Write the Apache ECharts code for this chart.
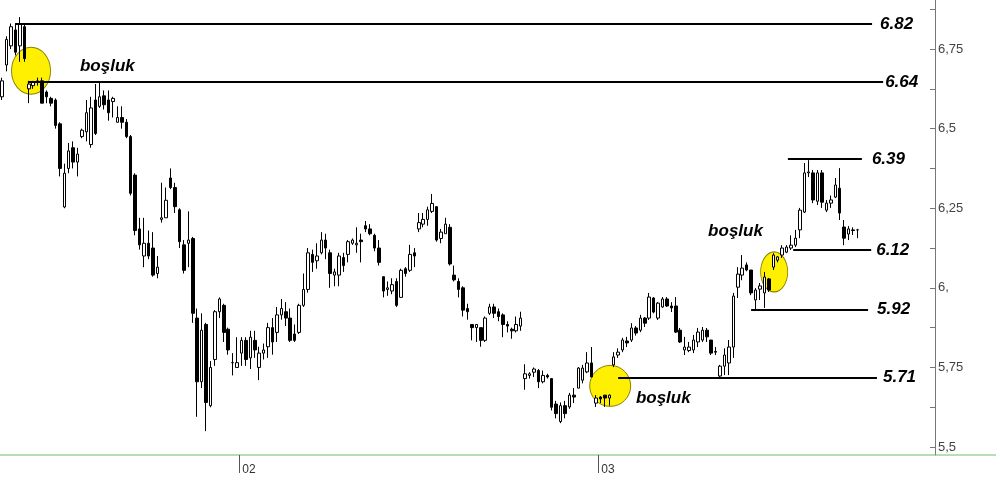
<!DOCTYPE html>
<html>
<head>
<meta charset="utf-8">
<script src="https://cdn.jsdelivr.net/npm/echarts@6/dist/echarts.min.js"></script>
<style>
html,body{margin:0;padding:0;background:#ffffff;}
#chart{width:1000px;height:489px;}
</style>
</head>
<body>
<div id="chart"></div>
<script>
// ---- data ----
const opens = [
6.60,6.70,6.76,6.81,6.76,6.82,6.625,6.635,6.645,6.65,
6.615,6.595,6.59,6.515,6.254,6.375,6.44,6.395,6.475,6.49,
6.45,6.59,6.57,6.603,6.59,6.585,6.52,6.535,6.52,6.475,
6.354,6.185,6.10,6.14,6.125,6.045,6.215,6.22,6.345,6.315,
6.245,6.135,6.14,6.155,5.905,5.705,5.885,5.63,5.775,5.925,
5.945,5.87,5.765,5.75,5.795,5.835,5.78,5.835,5.75,5.795,
5.815,5.875,5.86,5.915,5.925,5.905,5.855,5.86,5.945,5.995,
6.105,6.085,6.11,6.15,6.11,6.04,6.04,6.095,6.105,6.14,
6.135,6.15,6.195,6.185,6.165,6.125,6.035,5.995,5.99,6.02,
5.97,6.06,6.055,6.11,6.185,6.20,6.215,6.24,6.255,6.155,
6.17,6.19,6.04,6.02,6.0,5.935,5.885,5.875,5.875,5.835,
5.92,5.94,5.925,5.915,5.885,5.87,5.865,5.88,5.715,5.725,
5.735,5.74,5.705,5.725,5.715,5.635,5.58,5.63,5.626,5.663,
5.685,5.71,5.736,5.764,5.638,5.657,5.663,5.654,5.758,5.789,
5.805,5.833,5.836,5.874,5.867,5.905,5.905,5.968,5.905,5.94,
5.965,5.943,5.943,5.867,5.805,5.803,5.805,5.83,5.836,5.867,
5.836,5.80,5.723,5.754,5.764,5.814,6.002,6.04,6.072,6.056,
5.962,5.996,5.984,6.028,6.065,6.087,6.103,6.112,6.125,6.134,
6.182,6.238,6.361,6.361,6.272,6.361,6.244,6.266,6.285,6.313,
6.191,6.169,6.182,6.182
];
const closes = [
6.65,6.78,6.82,6.74,6.83,6.72,6.64,6.645,6.65,6.58,
6.60,6.58,6.51,6.375,6.36,6.43,6.395,6.42,6.495,6.55,
6.565,6.485,6.60,6.575,6.55,6.595,6.535,6.52,6.475,6.297,
6.18,6.135,6.14,6.10,6.04,6.065,6.22,6.275,6.315,6.255,
6.145,6.055,6.15,5.92,5.705,5.867,5.64,5.75,5.925,5.965,
5.86,5.805,5.765,5.765,5.835,5.775,5.845,5.805,5.795,5.805,
5.875,5.83,5.915,5.935,5.905,5.835,5.835,5.945,5.995,6.11,
6.08,6.10,6.15,6.125,6.045,6.05,6.10,6.07,6.145,6.15,
6.14,6.145,6.185,6.17,6.125,6.08,5.99,6.0,6.01,5.945,
6.055,6.045,6.105,6.10,6.205,6.215,6.245,6.265,6.15,6.175,
6.20,6.075,6.025,5.995,5.93,5.925,5.875,5.885,5.835,5.905,
5.94,5.92,5.91,5.885,5.88,5.865,5.885,5.905,5.73,5.73,
5.745,5.705,5.725,5.72,5.625,5.605,5.63,5.605,5.663,5.657,
5.748,5.748,5.764,5.72,5.654,5.651,5.654,5.663,5.783,5.798,
5.836,5.827,5.874,5.858,5.905,5.889,5.971,5.924,5.952,5.965,
5.943,5.937,5.861,5.83,5.814,5.814,5.836,5.861,5.867,5.846,
5.795,5.798,5.754,5.789,5.814,5.974,6.043,6.062,6.056,5.984,
5.993,6.006,6.034,5.993,6.103,6.097,6.125,6.128,6.134,6.156,
6.244,6.361,6.364,6.276,6.361,6.269,6.266,6.276,6.323,6.235,
6.156,6.185,6.18,6.182
];
const lows = [
6.59,6.68,6.75,6.73,6.71,6.71,6.58,6.625,6.635,6.58,
6.58,6.57,6.50,6.35,6.25,6.36,6.375,6.35,6.47,6.46,
6.44,6.48,6.565,6.56,6.525,6.535,6.52,6.50,6.47,6.29,
6.165,6.12,6.065,6.09,6.035,6.03,6.205,6.22,6.31,6.235,
6.125,6.045,6.065,5.89,5.595,5.685,5.55,5.625,5.755,5.905,
5.83,5.79,5.725,5.75,5.755,5.755,5.745,5.78,5.71,5.775,
5.78,5.79,5.83,5.90,5.88,5.83,5.83,5.855,5.94,5.985,
6.05,6.06,6.105,6.09,6.00,6.005,6.005,6.05,6.08,6.135,
6.11,6.08,6.175,6.165,6.115,6.07,5.97,5.975,5.98,5.94,
5.97,6.035,6.05,6.065,6.175,6.19,6.195,6.235,6.145,6.14,
6.17,6.07,6.02,5.97,5.91,5.90,5.835,5.83,5.815,5.83,
5.915,5.905,5.895,5.845,5.86,5.84,5.86,5.865,5.68,5.715,
5.72,5.685,5.70,5.715,5.615,5.59,5.575,5.59,5.62,5.638,
5.685,5.70,5.732,5.72,5.626,5.638,5.626,5.63,5.751,5.78,
5.798,5.814,5.83,5.85,5.861,5.877,5.899,5.92,5.899,5.937,
5.94,5.924,5.858,5.827,5.789,5.798,5.795,5.814,5.83,5.83,
5.789,5.789,5.72,5.726,5.726,5.78,5.968,6.024,6.052,5.977,
5.93,5.962,5.937,5.987,6.056,6.08,6.094,6.109,6.119,6.128,
6.156,6.235,6.348,6.266,6.26,6.251,6.238,6.251,6.282,6.213,
6.134,6.15,6.166,6.156
];
const highs = [
6.66,6.79,6.83,6.83,6.85,6.83,6.65,6.65,6.66,6.66,
6.62,6.60,6.595,6.52,6.39,6.455,6.46,6.44,6.50,6.59,
6.60,6.64,6.645,6.62,6.62,6.60,6.57,6.57,6.53,6.48,
6.36,6.22,6.22,6.18,6.175,6.10,6.33,6.315,6.375,6.33,
6.25,6.15,6.24,6.16,5.935,5.92,5.89,5.77,5.93,5.97,
5.95,5.875,5.795,5.845,5.845,5.845,5.865,5.865,5.815,5.825,
5.89,5.905,5.94,5.965,5.955,5.935,5.885,5.95,6.045,6.125,
6.12,6.14,6.175,6.17,6.12,6.06,6.11,6.11,6.15,6.155,
6.19,6.17,6.21,6.20,6.17,6.15,6.035,6.02,6.03,6.03,
6.06,6.065,6.135,6.125,6.235,6.235,6.255,6.295,6.255,6.185,
6.22,6.20,6.07,6.03,6.005,5.95,5.885,5.885,5.875,5.91,
5.95,5.95,5.935,5.92,5.895,5.875,5.91,5.925,5.76,5.735,
5.75,5.745,5.74,5.73,5.715,5.645,5.64,5.645,5.67,5.685,
5.751,5.758,5.798,5.814,5.663,5.66,5.663,5.665,5.798,5.81,
5.843,5.846,5.889,5.88,5.915,5.908,5.984,5.971,5.955,5.971,
5.971,5.955,5.971,5.874,5.846,5.83,5.852,5.874,5.877,5.874,
5.836,5.814,5.758,5.81,5.836,5.984,6.065,6.103,6.08,6.056,
5.999,6.015,6.05,6.031,6.109,6.10,6.134,6.134,6.165,6.182,
6.251,6.392,6.401,6.37,6.37,6.37,6.276,6.29,6.345,6.376,
6.213,6.194,6.19,6.185
];

// empty slots to the right of the last bar (time axis continues)
const emptyBars = 17;
// month boundaries (between bar 53|54 and bar 134|135) and their labels
const monthTickPositions = [53.5, 134.5];
const monthTickLabels = ['02', '03'];

const yTickValues = [5.5, 5.75, 6, 6.25, 6.5, 6.75];
const yTickLabels = ['5,5', '5,75', '6,', '6,25', '6,5', '6,75'];
const yMinorTickValues = [5.625, 5.875, 6.125, 6.375, 6.625, 6.875];

// drawn horizontal levels and their captions
const levelValues = [6.829, 6.646, 6.404, 6.119, 5.932, 5.719];
const levelLabels = ['6.82', '6.64', '6.39', '6.12', '5.92', '5.71'];

// gap ("boşluk") annotations
const gapNoteText = ['boşluk', 'boşluk', 'boşluk'];
const gapCircleCenters = [[6.5, 6.682], [137.2, 5.692], [174.2, 6.050]];
const gapNoteAnchors = [[17.55, 6.697], [143.0, 5.654], [159.3, 6.178]];

// ---- layout (not data) ----
const layout = {
  levelStart: [2.9, 5.8, 177.3, 178.5, 169.0, 139.0],
  levelEnd:   [196.3, 198.8, 194.0, 196.1, 195.4, 197.4],
  levelGap:   [8, 2, 10, 5, 9, 6],
  circleSize: [[39, 47], [41, 41], [27, 40]]
};

const nCat = opens.length + emptyBars;
const categories = [];
for (let i = 0; i < nCat; i++) categories.push(String(i));
const candleData = opens.map((o, i) => [o, closes[i], lows[i], highs[i]]);

const bold17 = {
  fontFamily: 'Liberation Sans, Arial, sans-serif',
  fontStyle: 'italic', fontWeight: 'bold', fontSize: 17, color: '#000',
  textBorderWidth: 0, opacity: 1
};

const chart = echarts.init(document.getElementById('chart'), null, {renderer: 'canvas'});

chart.setOption({
  animation: false,
  backgroundColor: '#ffffff',
  textStyle: {fontFamily: 'Liberation Sans, Arial, sans-serif'},
  grid: {left: 0, right: 65, top: 0, bottom: 34, containLabel: false},
  xAxis: [
    {
      type: 'category', data: categories, boundaryGap: true,
      axisLine: {show: true, onZero: false, lineStyle: {color: '#9fd39f', width: 1.5}},
      axisTick: {show: false},
      axisLabel: {show: false},
      splitLine: {show: false}
    },
    {
      type: 'value', min: -0.5, max: nCat - 0.5, gridIndex: 0, position: 'bottom',
      axisLine: {show: false, onZero: false},
      axisTick: {show: true, customValues: monthTickPositions, length: 18,
                 lineStyle: {color: '#555'}},
      axisLabel: {show: true, customValues: monthTickPositions,
                  formatter: (v) => {
                    const k = monthTickPositions.findIndex(t => Math.abs(t - v) < 1e-6);
                    return k >= 0 ? monthTickLabels[k] : '';
                  },
                  align: 'left', padding: [0, 0, 0, 3], color: '#333', fontSize: 12, margin: 9},
      splitLine: {show: false}
    }
  ],
  yAxis: {
    type: 'value', position: 'right', min: 5.475, max: 6.904, scale: true,
    splitLine: {show: false},
    axisLine: {show: true, onZero: false, lineStyle: {color: '#777', width: 1}},
    axisTick: {show: true, inside: true, length: 5,
               customValues: yTickValues.concat(yMinorTickValues),
               lineStyle: {color: '#777'}},
    axisLabel: {show: true, customValues: yTickValues, margin: 3,
                color: '#444', fontSize: 13,
                formatter: (v) => {
                  const k = yTickValues.findIndex(t => Math.abs(t - v) < 1e-6);
                  return k >= 0 ? yTickLabels[k] : '';
                }}
  },
  graphic: [{
    type: 'line', silent: true,
    shape: {x1: 935, y1: 455, x2: 996, y2: 455},
    style: {stroke: '#9fd39f', lineWidth: 1.5}
  }],
  series: [
    {
      name: 'gapCircles', type: 'scatter', xAxisIndex: 1, yAxisIndex: 0, z: 1,
      silent: true,
      data: gapCircleCenters.map((c, k) => ({value: c, symbolSize: layout.circleSize[k]})),
      symbol: 'circle',
      itemStyle: {color: '#FFEF00', borderColor: '#8a8000', borderWidth: 1, opacity: 1},
      markLine: {
        z: 5, silent: true, symbol: ['none', 'none'], animation: false,
        lineStyle: {color: '#000', width: 2.2, type: 'solid'},
        data: levelValues.map((v, k) => [
          {coord: [layout.levelStart[k], v],
           label: Object.assign({show: true, position: 'end', distance: layout.levelGap[k],
                                 formatter: levelLabels[k]}, bold17)},
          {coord: [layout.levelEnd[k], v]}
        ])
      },
      markPoint: {
        z: 6, silent: true, symbol: 'circle', symbolSize: 0, animation: false,
        itemStyle: {color: '#000'},
        data: gapNoteAnchors.map((p, k) => ({
          coord: p, name: gapNoteText[k],
          label: Object.assign({show: true, position: 'right', distance: 0,
                                formatter: gapNoteText[k]}, bold17)
        }))
      }
    },
    {
      name: 'price', type: 'candlestick', xAxisIndex: 0, yAxisIndex: 0, z: 2,
      data: candleData, barWidth: 3, silent: true,
      itemStyle: {color: '#ffffff', color0: '#000000',
                  borderColor: '#000000', borderColor0: '#000000', borderWidth: 1}
    }
  ]
});
</script>
</body>
</html>
